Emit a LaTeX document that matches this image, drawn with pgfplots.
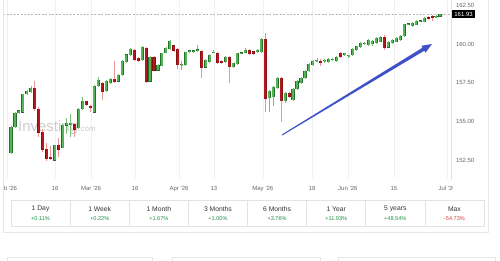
\documentclass[border=0pt]{standalone}
\usepackage{fontspec}
\setmainfont{Liberation Sans}
\usepackage{pgfplots}
\pgfplotsset{compat=1.18}
\usepackage{pgfplotstable}

\definecolor{gfill}{RGB}{86,180,88}
\definecolor{gline}{RGB}{36,112,42}
\definecolor{gwick}{RGB}{120,190,120}
\definecolor{rfill}{RGB}{180,24,30}
\definecolor{rline}{RGB}{135,14,20}
\definecolor{rwick}{RGB}{232,150,150}
\definecolor{lbl}{RGB}{102,102,102}
\definecolor{arrowblue}{RGB}{63,81,200}
\definecolor{pctgreen}{RGB}{30,140,70}
\definecolor{pctred}{RGB}{210,60,60}

\pgfplotstableread{
i o h l c
0 152.96 154.70 152.90 154.64
1 154.64 155.60 154.60 155.54
2 155.54 155.75 155.50 155.70
3 155.60 156.80 155.55 156.77
4 156.77 157.00 156.70 156.96
5 156.90 157.30 156.85 157.16
11 152.50 153.50 152.45 153.48
13 153.30 154.85 153.25 154.77
14 154.75 155.20 154.20 154.90
15 154.80 155.50 154.00 154.90
17 154.57 155.85 154.50 155.80
18 155.80 156.55 155.75 156.30
21 155.60 157.35 155.55 157.29
22 157.29 157.90 157.25 157.67
24 156.96 157.65 156.90 157.60
25 157.48 157.80 157.40 157.74
27 157.60 158.05 157.55 158.00
28 158.00 158.95 157.95 158.90
29 158.84 159.35 158.80 159.30
30 159.30 159.75 159.25 159.68
33 158.97 159.85 158.90 159.80
35 157.60 159.20 157.55 159.16
37 158.30 158.70 158.25 158.64
38 158.58 159.45 158.55 159.42
39 159.42 159.80 159.40 159.74
40 159.68 160.25 159.60 160.19
43 158.64 158.90 158.30 158.71
44 158.64 159.50 158.60 159.48
45 159.50 159.60 159.45 159.58
46 159.52 159.62 159.45 159.58
47 159.55 159.94 159.50 159.62
49 158.50 159.00 158.45 158.97
50 158.84 159.35 158.80 159.29
51 159.45 159.60 159.40 159.48
54 158.84 159.20 158.80 159.16
56 158.51 158.80 158.45 158.77
57 158.71 159.45 158.65 159.40
58 159.40 159.50 159.35 159.45
59 159.42 159.75 159.40 159.61
62 159.48 159.65 159.40 159.61
63 159.48 160.40 159.40 160.32
65 156.51 157.00 155.60 156.96
66 156.58 157.30 156.00 157.22
67 157.16 157.90 157.10 157.80
69 156.32 156.90 156.20 156.83
71 156.38 157.15 156.30 157.09
72 157.09 157.65 157.05 157.61
73 157.48 157.85 157.40 157.80
74 157.80 158.30 157.75 158.26
75 158.26 158.75 158.20 158.71
76 158.64 158.95 158.60 158.90
77 158.90 159.10 158.85 158.97
79 158.90 159.00 158.80 158.95
80 158.84 159.10 158.80 159.03
81 158.97 159.10 158.90 159.03
82 158.90 159.20 158.85 159.16
84 159.29 159.45 159.25 159.42
85 159.22 159.30 159.10 159.26
86 159.29 159.74 159.20 159.68
87 159.61 159.90 159.55 159.87
88 159.81 160.10 159.75 160.06
89 160.02 160.10 159.95 160.06
90 159.94 160.30 159.90 160.26
91 160.00 160.25 159.90 160.20
92 160.06 160.45 160.00 160.39
93 160.13 160.50 160.10 160.45
95 159.80 160.20 159.75 160.13
96 160.06 160.30 160.00 160.26
97 160.13 160.45 160.10 160.39
98 160.26 160.60 160.20 160.52
99 160.52 161.32 160.45 161.29
100 161.25 161.35 161.20 161.30
101 161.16 161.40 161.10 161.36
102 161.23 161.55 161.20 161.49
103 161.45 161.55 161.40 161.50
104 161.42 161.75 161.40 161.68
107 161.75 161.85 161.70 161.80
108 161.78 161.95 161.75 161.93
}\greens

\pgfplotstableread{
i o h l c
6 157.16 157.60 155.70 155.80
7 155.80 155.90 154.00 154.30
8 154.30 154.50 153.00 153.20
9 153.20 153.60 152.45 152.60
10 152.70 153.40 152.50 152.57
12 153.48 153.90 152.70 153.20
16 154.83 154.90 154.00 154.50
19 156.30 156.35 156.00 156.06
20 156.00 156.05 155.60 155.90
23 157.48 157.55 156.40 156.90
26 157.74 158.90 157.50 157.55
31 159.60 159.65 158.90 158.97
32 159.10 159.15 158.85 158.90
34 159.74 159.80 157.50 157.60
36 159.16 159.20 158.25 158.30
41 159.90 159.95 159.50 159.60
42 159.68 159.75 158.39 158.64
48 159.55 159.60 157.80 158.45
52 159.42 159.50 158.70 158.77
53 158.90 158.95 158.70 158.77
55 159.16 159.20 157.50 158.51
60 159.61 159.70 159.30 159.35
61 159.50 159.55 159.30 159.35
64 160.32 160.70 155.60 156.50
68 157.80 157.85 154.96 156.32
70 156.83 156.90 156.50 156.58
78 158.90 159.00 158.60 158.77
83 159.42 159.50 159.10 159.16
94 160.45 160.55 159.60 159.74
105 161.70 161.80 161.55 161.65
106 161.78 161.90 161.50 161.70
}\reds

\begin{document}
\begin{tikzpicture}
\begin{axis}[
  scale only axis, width=448bp, height=178bp,
  xmin=-2.014, xmax=110.77,
  ymin=151.344, ymax=162.842,
  clip mode=individual,
  axis line style={draw=none},
  major tick length=0pt,
  xtick={-1,11.08,20.14,31.22,42.3,51.1,63.4,75.8,84.8,96.4,109.8},
  xticklabels={Feb '26,16,Mar '26,16,Apr '26,13,May '26,18,Jun '26,15,Jul '26},
  xticklabel style={font=\fontsize{6}{7}\selectfont, text=lbl, yshift=-5bp},
  ytick={152.5,155,157.5,160,162.5},
  yticklabel pos=right,
  /pgf/number format/assume math mode=true,
  yticklabel style={font=\fontsize{6}{7}\selectfont, text=lbl, anchor=west, xshift=1.5bp,
    /pgf/number format/.cd, fixed, fixed zerofill, precision=2},
  xmajorgrids,
  major grid style={draw=gray!12, line width=0.5bp},
]
\coordinate (TL) at (rel axis cs:0,1);
\node[anchor=base west, inner sep=0, text=gray!40, font=\fontsize{15}{15}\selectfont] (wm) at (axis cs:1.76,154.32) {Investing};
\node[anchor=base west, inner sep=0, text=gray!40, font=\fontsize{8}{8}\selectfont] at (wm.base east) {.com};

\addplot[forget plot, draw=gray!55, dash pattern=on 2bp off 1.5bp, line width=0.6bp] coordinates {(-2.014,161.93) (110.77,161.93)};

% wicks
\addplot[forget plot, draw=none, mark=none, error bars/.cd, y dir=plus, y explicit, error mark=none,
  error bar style={draw=gwick, line width=0.7bp}]
  table[x=i, y=l, y error expr=\thisrow{h}-\thisrow{l}] \greens;
\addplot[forget plot, draw=none, mark=none, error bars/.cd, y dir=plus, y explicit, error mark=none,
  error bar style={draw=rwick, line width=0.7bp}]
  table[x=i, y=l, y error expr=\thisrow{h}-\thisrow{l}] \reds;

% bodies outer
\addplot[forget plot, draw=none, mark=none, error bars/.cd, y dir=both, y explicit, error mark=none,
  error bar style={draw=gline, line width=3.1bp, shorten <=-0.4bp, shorten >=-0.4bp}]
  table[x=i, y expr=(\thisrow{o}+\thisrow{c})/2, y error expr=abs(\thisrow{c}-\thisrow{o})/2] \greens;
\addplot[forget plot, draw=none, mark=none, error bars/.cd, y dir=both, y explicit, error mark=none,
  error bar style={draw=rline, line width=3.1bp, shorten <=-0.4bp, shorten >=-0.4bp}]
  table[x=i, y expr=(\thisrow{o}+\thisrow{c})/2, y error expr=abs(\thisrow{c}-\thisrow{o})/2] \reds;
% bodies inner
\addplot[forget plot, draw=none, mark=none, error bars/.cd, y dir=both, y explicit, error mark=none,
  error bar style={draw=gfill, line width=2.0bp}]
  table[x=i, y expr=(\thisrow{o}+\thisrow{c})/2, y error expr=abs(\thisrow{c}-\thisrow{o})/2] \greens;
\addplot[forget plot, draw=none, mark=none, error bars/.cd, y dir=both, y explicit, error mark=none,
  error bar style={draw=rfill, line width=2.0bp}]
  table[x=i, y expr=(\thisrow{o}+\thisrow{c})/2, y error expr=abs(\thisrow{c}-\thisrow{o})/2] \reds;

\node[anchor=west, fill=black, text=white, inner xsep=2.2bp, inner ysep=1.6bp,
  font=\fontsize{6}{7}\selectfont, xshift=1bp] at (axis cs:110.77,161.93) {161.93};
\end{axis}

% decorations in pixel coordinates (origin top-left of the 500x260 picture, y downward)
\begin{scope}[shift={(TL)}, xshift=-3bp, x=1bp, y=-1bp]
  % masks that cut the outer tick labels as in the reference
  \fill[white] (-20,178) rectangle (3,200);
  \fill[white] (453,178) rectangle (487.5,198);
  % card borders
  \draw[gray!18, line width=0.6bp] (3,0) -- (3,232) -- (488,232) -- (488,0);
  \draw[gray!22, line width=0.6bp] (451,0) -- (451,180);
  % trend arrow
  \fill[arrowblue] (282.26,135.43) -- (424.36,50.69) -- (425.53,52.61) -- (432,44)
     -- (421.37,45.77) -- (422.54,47.69) -- (281.74,134.57) -- cycle;
  % performance table
  \foreach \k/\lab/\val/\col in {0/1 Day/+0.11\%/pctgreen, 1/1 Week/+0.22\%/pctgreen,
      2/1 Month/+1.67\%/pctgreen, 3/3 Months/+1.00\%/pctgreen, 4/6 Months/+3.76\%/pctgreen,
      5/1 Year/+11.93\%/pctgreen, 6/5 years/+48.54\%/pctgreen, 7/Max/-54.73\%/pctred} {
    \draw[gray!22, line width=0.6bp] ({11+\k*59.125},200) rectangle ++(59.125,26);
    \node[font=\fontsize{6.8}{8}\selectfont, text=black!80, inner sep=0] at ({11+\k*59.125+29.56},209) {\lab};
    \node[font=\fontsize{5.6}{7}\selectfont, text=\col, inner sep=0] at ({11+\k*59.125+29.56},218.5) {\val};
  }
  % tops of the cards below
  \draw[gray!20, line width=0.6bp] (7,261) -- (7,257) -- (152,257) -- (152,261);
  \draw[gray!20, line width=0.6bp] (172,261) -- (172,257) -- (320,257) -- (320,261);
  \draw[gray!20, line width=0.6bp] (338,261) -- (338,257) -- (495,257) -- (495,261);
  \coordinate (BA) at (0,260);
  \coordinate (BB) at (500,0);
\end{scope}
\pgfresetboundingbox
\useasboundingbox (BA) rectangle (BB);
\end{tikzpicture}
\end{document}
